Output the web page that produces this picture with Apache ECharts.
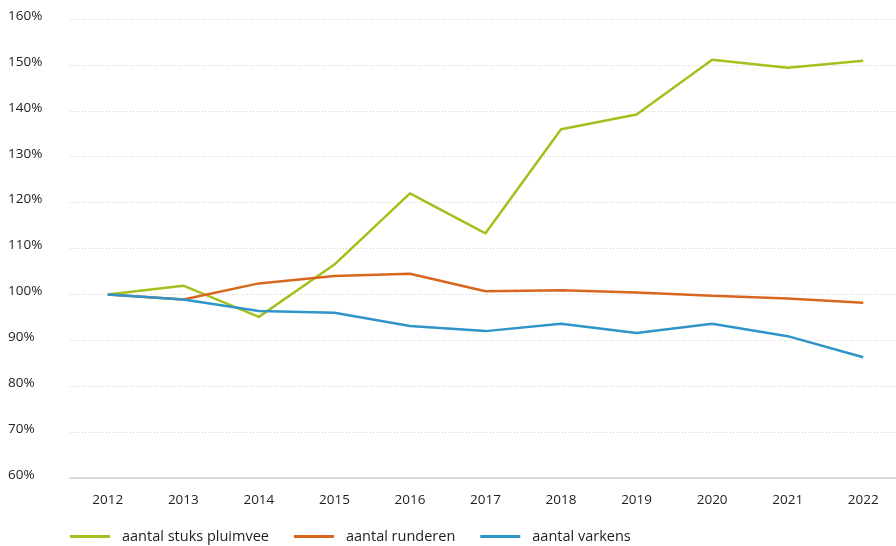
<!DOCTYPE html>
<html>
<head>
<meta charset="utf-8">
<script src="https://cdn.jsdelivr.net/npm/echarts@6/dist/echarts.min.js"></script>
<style>
  html, body { margin: 0; padding: 0; background: #fff; overflow: hidden; }
  /* a bit wider than the window: the last category band runs past the right edge */
  #chart { width: 901px; height: 546px; }
</style>
</head>
<body>
<div id="chart"></div>
<script>
const years = ['2012', '2013', '2014', '2015', '2016', '2017', '2018', '2019', '2020', '2021', '2022'];
const pluimvee = [100, 101.9, 95.1, 106.5, 122.0, 113.3, 136.0, 139.2, 151.1, 149.4, 150.9];
const runderen = [100, 98.9, 102.4, 104.0, 104.5, 100.7, 100.9, 100.4, 99.7, 99.1, 98.2];
const varkens = [100, 98.9, 96.4, 96.0, 93.1, 92.0, 93.6, 91.6, 93.6, 90.9, 86.3];

const FONT = 'Open Sans';
const TEXT = '#1e1e1e';

const chart = echarts.init(document.getElementById('chart'));

const line = (name, data, color) => ({
  name,
  type: 'line',
  data,
  symbol: 'none',
  lineStyle: { width: 2.5, color },
  itemStyle: { color },
});

chart.setOption({
  animation: false,
  textStyle: { fontFamily: FONT },
  grid: { left: 70, right: 0, top: 19, bottom: 68, containLabel: false },
  legend: {
    left: 70,
    top: 529,
    padding: 0,
    itemWidth: 40,
    itemHeight: 3,
    itemGap: 25,
    icon: 'rect',
    textStyle: { fontSize: 14.5, color: TEXT, fontFamily: FONT, padding: [0, 0, 0, 7] },
  },
  xAxis: {
    type: 'category',
    data: years,
    boundaryGap: true,
    axisLine: { lineStyle: { color: '#d9d9d9', width: 2 } },
    axisTick: { show: false },
    axisLabel: { color: TEXT, fontSize: 13.5, margin: 15 },
  },
  yAxis: {
    type: 'value',
    min: 60,
    max: 160,
    interval: 10,
    axisLine: { show: false },
    axisTick: { show: false },
    axisLabel: {
      color: TEXT,
      fontSize: 13.5,
      align: 'left',
      verticalAlign: 'bottom',
      lineHeight: 6,
      margin: 62,
      formatter: v => v + '%',
    },
    splitLine: { lineStyle: { color: '#cfcfcf', type: [1, 2], width: 1 } },
  },
  series: [
    line('aantal stuks pluimvee', pluimvee, '#a2c11c'),
    line('aantal runderen', runderen, '#d8671e'),
    line('aantal varkens', varkens, '#2f94c8'),
  ],
});
</script>
</body>
</html>
